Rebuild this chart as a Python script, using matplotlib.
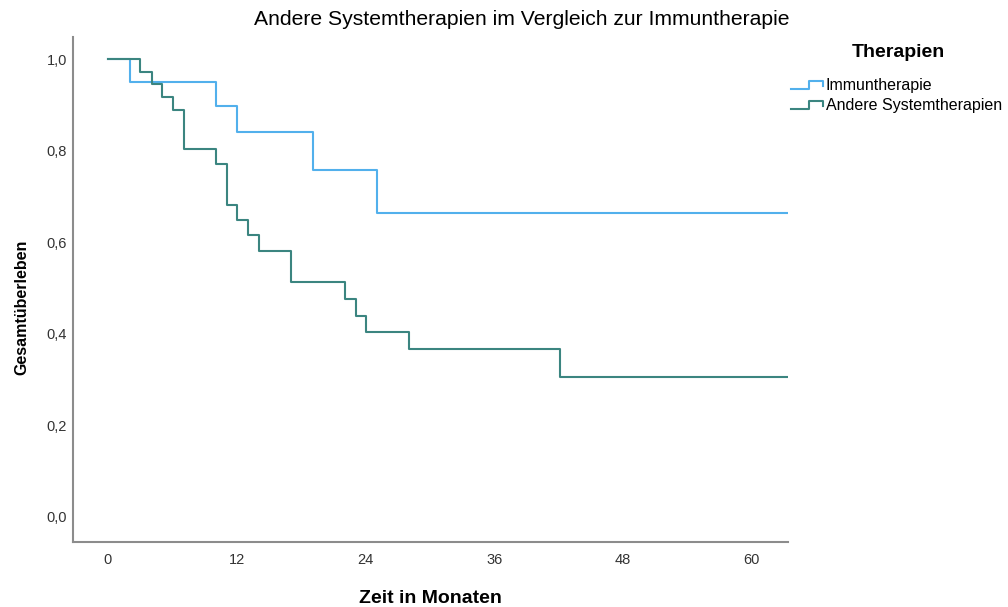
import matplotlib
matplotlib.use('Agg')
import matplotlib.pyplot as plt
from matplotlib.legend_handler import HandlerBase
from matplotlib.lines import Line2D
from matplotlib.ticker import FuncFormatter

# Kaplan-Meier steps (months, survival)
immun_t = [0, 2.1, 10.1, 12.0, 19.1, 25.1, 63.4]
immun_s = [1.0, 0.950, 0.898, 0.842, 0.759, 0.664, 0.664]

andere_t = [0, 3.0, 4.1, 5.1, 6.1, 7.1, 10.1, 11.1, 12.0, 13.1, 14.1, 17.1,
            22.1, 23.1, 24.1, 28.1, 42.1, 63.4]
andere_s = [1.0, 0.972, 0.946, 0.917, 0.890, 0.804, 0.772, 0.681, 0.649,
            0.616, 0.581, 0.513, 0.477, 0.440, 0.404, 0.367, 0.306, 0.306]

x_ticks = [0, 12, 24, 36, 48, 60]
y_ticks = [0.0, 0.2, 0.4, 0.6, 0.8, 1.0]
labels = ['Immuntherapie', 'Andere Systemtherapien']
colors = ['#52b0ec', '#3b8580']

plt.rcParams['font.family'] = ['Liberation Sans', 'DejaVu Sans']


class StepHandler(HandlerBase):
    # little step glyph like the SPSS legend
    def create_artists(self, legend, orig, xd, yd, w, h, fontsize, trans):
        xs = [-xd, -xd + 0.55 * w, -xd + 0.55 * w, -xd + w, -xd + w]
        ys = [-yd + 0.1 * h, -yd + 0.1 * h, -yd + 0.8 * h, -yd + 0.8 * h, -yd + 0.4 * h]
        ln = Line2D(xs, ys, color=orig.get_color(), lw=1.5)
        ln.set_transform(trans)
        return [ln]


fig = plt.figure(figsize=(10.08, 6.07), dpi=100)
ax = fig.add_axes([0.0721, 0.1076, 0.7100, 0.8321])

l1, = ax.step(immun_t, immun_s, where='post', color=colors[0], lw=1.5)
l2, = ax.step(andere_t, andere_s, where='post', color=colors[1], lw=1.5)

ax.set_xlim(-3.26, 63.4)
ax.set_ylim(-0.054, 1.05)
ax.set_xticks(x_ticks)
ax.set_yticks(y_ticks)
ax.yaxis.set_major_formatter(FuncFormatter(lambda v, p: ('%.1f' % v).replace('.', ',')))
ax.tick_params(length=0, labelsize=10.5, labelcolor='#333333')
ax.tick_params(axis='x', pad=8)
ax.tick_params(axis='y', pad=4)

for s in ['top', 'right']:
    ax.spines[s].set_visible(False)
for s in ['left', 'bottom']:
    ax.spines[s].set_color('#8c8c8c')
    ax.spines[s].set_linewidth(1.5)

ax.set_xlabel('Zeit in Monaten', fontsize=14, fontweight='bold')
ax.xaxis.set_label_coords(0.5, -0.095)
ax.set_ylabel('Gesamtüberleben', fontsize=11.5, fontweight='bold')
ax.yaxis.set_label_coords(-0.061, 0.465)

fig.text(0.518, 0.968, 'Andere Systemtherapien im Vergleich zur Immuntherapie',
         ha='center', va='center', fontsize=15.2)

fig.text(0.891, 0.913, 'Therapien', ha='center', va='center', fontsize=14, fontweight='bold')
leg = fig.legend([l1, l2], labels, loc='upper left', bbox_to_anchor=(0.785, 0.871),
                 frameon=False, fontsize=11.5, handler_map={Line2D: StepHandler()},
                 handlelength=2.0, handletextpad=0.15, labelspacing=0.3,
                 borderaxespad=0, borderpad=0)

fig.savefig('out.png', dpi=100)
